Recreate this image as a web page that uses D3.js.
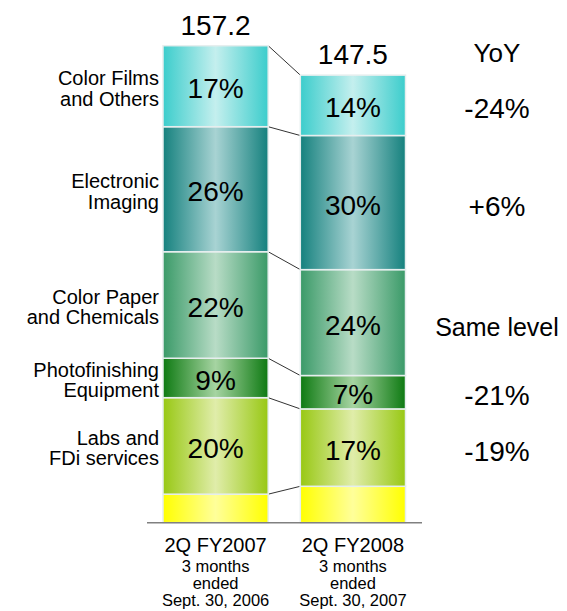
<!DOCTYPE html>
<html>
<head>
<meta charset="utf-8">
<script src="https://cdn.jsdelivr.net/npm/d3@7"></script>
<style>
  html, body { margin: 0; padding: 0; background: #ffffff; }
  svg { display: block; font-family: "Liberation Sans", Arial, sans-serif; }
</style>
</head>
<body>
<svg id="chart" width="567" height="611"></svg>
<script>
// ---------- data ----------
const periods = ["2Q FY2007", "2Q FY2008"];
const periodSub = [
  ["3 months", "ended", "Sept. 30, 2006"],
  ["3 months", "ended", "Sept. 30, 2007"]
];
const totals = [157.2, 147.5];
// segments listed bottom to top
const segments = ["Other", "Labs and FDi services", "Photofinishing Equipment",
                  "Color Paper and Chemicals", "Electronic Imaging", "Color Films and Others"];
const segmentLabelLines = [
  [],
  ["Labs and", "FDi services"],
  ["Photofinishing", "Equipment"],
  ["Color Paper", "and Chemicals"],
  ["Electronic", "Imaging"],
  ["Color Films", "and Others"]
];
const values2007 = [9.4, 31.8, 13.0, 35.1, 41.2, 26.7];
const values2008 = [12.0, 25.5, 11.0, 34.9, 44.2, 19.9];
const share2007 = ["", "20%", "9%", "22%", "26%", "17%"];
const share2008 = ["", "17%", "7%", "24%", "30%", "14%"];
const yoyHeader = "YoY";
const yoy = ["", "-19%", "-21%", "Same level", "+6%", "-24%"];

// ---------- styles ----------
const gradColors = [
  ["#ffff00", "#ffff9a"],
  ["#98c814", "#e0edaa"],
  ["#0e7a12", "#a6d4a2"],
  ["#3a9a68", "#b8dcc6"],
  ["#15817e", "#a8d3d3"],
  ["#3ccdcc", "#c4efee"]
];

const svg = d3.select("#chart");
const defs = svg.append("defs");
gradColors.forEach((c, i) => {
  const g = defs.append("linearGradient").attr("id", "g" + i)
    .attr("x1", "0%").attr("x2", "100%").attr("y1", "0%").attr("y2", "0%");
  g.append("stop").attr("offset", "0%").attr("stop-color", c[0]);
  g.append("stop").attr("offset", "50%").attr("stop-color", c[1]);
  g.append("stop").attr("offset", "100%").attr("stop-color", c[0]);
});

// ---------- scales ----------
const x = d3.scaleBand().domain(periods).range([163, 405.5]).paddingInner(0.234).paddingOuter(0);
const y = d3.scaleLinear().domain([0, totals[0]]).range([522.7, 45.7]);

const series = [values2007, values2008];
const shares = [share2007, share2008];

// stacked layout
const stacked = series.map((vals, pi) => {
  let acc = 0;
  return vals.map((v, si) => {
    const d = { period: periods[pi], si, y0: acc, y1: acc + v, share: shares[pi][si] };
    acc += v;
    return d;
  });
});

// connector lines (boundaries between bar 1 and bar 2)
const boundaries = d3.range(1, segments.length + 1).map(k => ({
  a: d3.sum(values2007.slice(0, k)),
  b: d3.sum(values2008.slice(0, k))
}));
svg.append("g").selectAll("line").data(boundaries).join("line")
  .attr("x1", x(periods[0]) + x.bandwidth())
  .attr("x2", x(periods[1]))
  .attr("y1", d => y(d.a))
  .attr("y2", d => y(d.b))
  .attr("stroke", "#333")
  .attr("stroke-width", 1);

// bars
stacked.forEach((segs, pi) => {
  const g = svg.append("g");
  g.selectAll("rect").data(segs).join("rect")
    .attr("x", x(periods[pi]))
    .attr("width", x.bandwidth())
    .attr("y", d => y(d.y1))
    .attr("height", d => y(d.y0) - y(d.y1))
    .attr("fill", d => `url(#g${d.si})`)
    .attr("stroke", "#e6eeee")
    .attr("stroke-width", 1.5);
  g.selectAll("text").data(segs.filter(d => d.share)).join("text")
    .attr("x", x(periods[pi]) + x.bandwidth() / 2)
    .attr("y", d => (y(d.y0) + y(d.y1)) / 2 + 12)
    .attr("text-anchor", "middle")
    .attr("font-size", 28)
    .attr("fill", "#000")
    .text(d => d.share);
  // total
  svg.append("text")
    .attr("x", x(periods[pi]) + x.bandwidth() / 2)
    .attr("y", y(totals[pi]) - 11)
    .attr("text-anchor", "middle")
    .attr("font-size", 28)
    .text(d3.format(".1f")(totals[pi]));
});

// axis baseline
svg.append("line")
  .attr("x1", 147).attr("x2", 422)
  .attr("y1", y(0)).attr("y2", y(0))
  .attr("stroke", "#808080").attr("stroke-width", 1.5);

// category labels (left)
const catG = svg.append("g");
stacked[0].forEach(d => {
  const lines = segmentLabelLines[d.si];
  if (!lines.length) return;
  const mid = (y(d.y0) + y(d.y1)) / 2;
  lines.forEach((ln, i) => {
    catG.append("text")
      .attr("text-anchor", "end")
      .attr("font-size", 20)
      .attr("x", 159)
      .attr("y", mid - 1 + i * 20.5)
      .text(ln);
  });
});

// YoY column
const yoyX = 497;
svg.append("text").attr("x", yoyX).attr("y", 62)
  .attr("text-anchor", "middle").attr("font-size", 26).text(yoyHeader);
stacked[1].forEach(d => {
  if (!yoy[d.si]) return;
  const mid = (y(d.y0) + y(d.y1)) / 2;
  svg.append("text").attr("x", yoyX)
    .attr("y", mid + 13)
    .attr("text-anchor", "middle")
    .attr("font-size", yoy[d.si] === "Same level" ? 25 : 28)
    .text(yoy[d.si]);
});

// period labels
periods.forEach((p, pi) => {
  const cx = x(p) + x.bandwidth() / 2;
  svg.append("text").attr("x", cx).attr("y", 552)
    .attr("text-anchor", "middle").attr("font-size", 20).text(p);
  periodSub[pi].forEach((s, i) => {
    svg.append("text").attr("x", cx).attr("y", 572 + i * 17)
      .attr("text-anchor", "middle").attr("font-size", 16.5).text(s);
  });
});
</script>
</body>
</html>
